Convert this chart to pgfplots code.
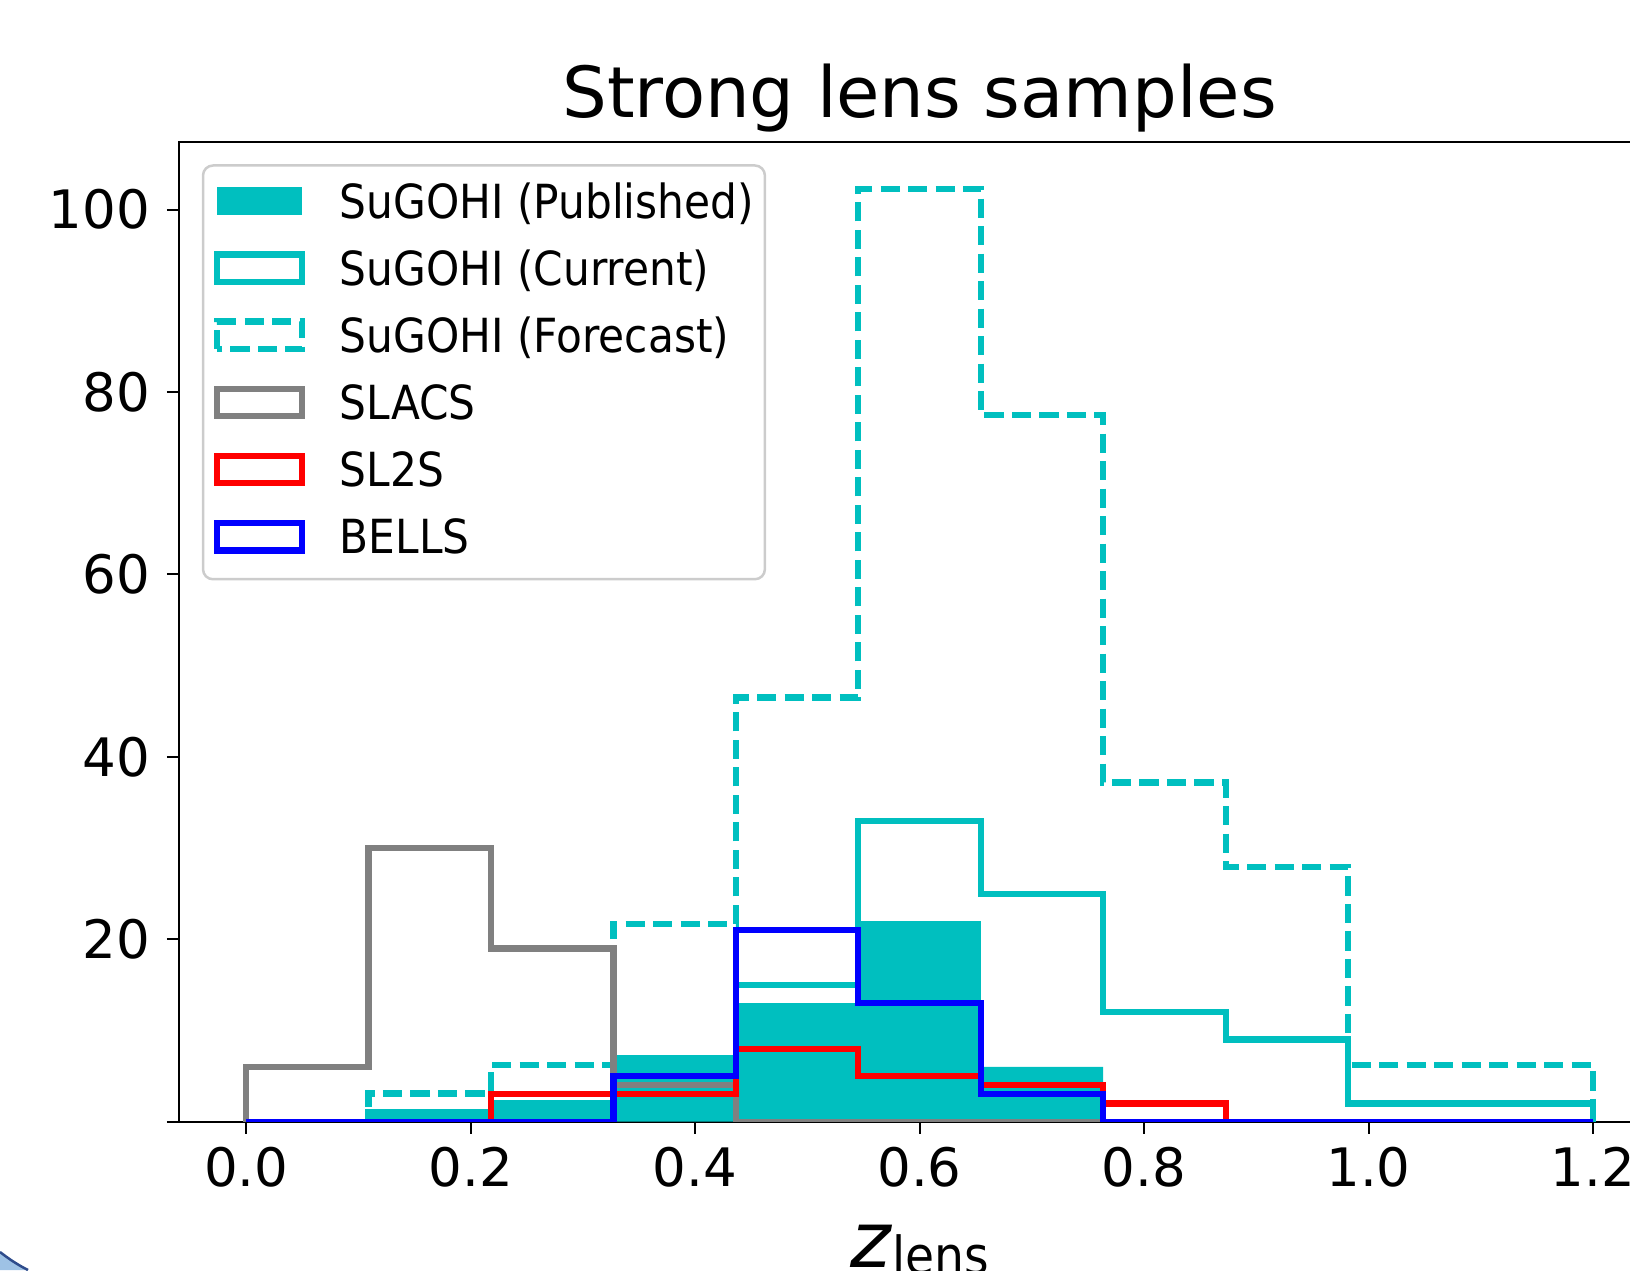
\documentclass[border=0pt]{standalone}
\usepackage{fontspec}
\setmainfont{DejaVu Sans}
\newfontfamily\legfont{DejaVu Sans}[FakeStretch=0.9]
\usepackage{pgfplots}
\pgfplotsset{compat=1.18}

\definecolor{mplcyan}{rgb}{0,0.75,0.75}
\definecolor{mplgray}{rgb}{0.5,0.5,0.5}
\definecolor{legedge}{rgb}{0.8,0.8,0.8}
\definecolor{slideblue}{rgb}{0.62,0.76,0.9}
\definecolor{slideedge}{rgb}{0.18,0.3,0.55}

\pgfplotsset{
  histleg/.style={legend image code/.code={%
    \draw[##1, sharp corners] (0pt,-2.05pt) rectangle (17pt,3.45pt);}},
  hist/.style={const plot, line width=1.25pt, line join=miter, histleg},
}

\begin{document}
\begin{tikzpicture}
\useasboundingbox (0,0) rectangle (326pt,254pt);
\begin{scope}
\clip (0,0) rectangle (326pt,254pt);
\begin{axis}[
  at={(35.76pt,29.66pt)}, anchor=south west,
  scale only axis, width=296.3pt, height=195.9pt,
  xmin=-0.06, xmax=1.26, ymin=0, ymax=107.4,
  xtick={0,0.2,0.4,0.6,0.8,1.0,1.2},
  xticklabels={0.0,0.2,0.4,0.6,0.8,1.0,1.2},
  ytick={0,20,40,60,80,100},
  yticklabels={,20,40,60,80,100},
  xtick pos=bottom, ytick pos=left,
  tick align=outside, major tick length=2.4pt,
  every tick/.style={black, line width=0.4pt},
  axis line style={black, line width=0.4pt},
  ticklabel style={font=\fontsize{10.6}{10.6}\selectfont, inner sep=0pt},
  xticklabel style={yshift=-2.4pt},
  yticklabel style={xshift=-3.2pt},
  title={Strong lens samples},
  every axis title shift=0pt,
  title style={font=\fontsize{14.1}{14.1}\selectfont, at={(0.5,1)},
    anchor=base, yshift=4.84pt, inner sep=0pt},
  xlabel={\fontsize{15.5}{15.5}\selectfont\textit{z}\raisebox{-1.5pt}{\legfont\fontsize{10.5}{10.5}\selectfont lens}},
  xlabel style={at={(axis description cs:0.5,0)}, anchor=base,
    yshift=-29.06pt, inner sep=0pt},
  legend cell align=left,
  legend style={at={(0.0155,0.9775)}, anchor=north west,
    draw=legedge, line width=0.5pt, rounded corners=2pt,
    inner xsep=2.2pt, inner ysep=3.05pt,
    row sep=3.93pt, column sep=6.9pt,
    font=\legfont\fontsize{9.4}{9.4}\selectfont,
    nodes={inner sep=0pt, text height=7.5pt, text depth=2pt}},
]
% SuGOHI (Published)
\addplot[const plot, fill=mplcyan, draw=none,
  legend image code/.code={\fill[mplcyan, sharp corners] (0pt,-2.05pt) rectangle (17pt,3.45pt);}]
  coordinates {
  (0,0) (0,0) (0.10909,1) (0.21818,2) (0.32727,7) (0.43636,13)
  (0.54545,22) (0.65455,6) (0.76364,0) (0.87273,0) (0.98182,0)
  (1.09091,0) (1.2,0)} \closedcycle;
% SuGOHI (Current)
\addplot[hist, mplcyan] coordinates {
  (0,0) (0,0) (0.10909,1) (0.21818,2) (0.32727,7) (0.43636,15)
  (0.54545,33) (0.65455,25) (0.76364,12) (0.87273,9) (0.98182,2)
  (1.09091,2) (1.2,0)};
% SuGOHI (Forecast)
\addplot[hist, mplcyan, dash pattern=on 3.85pt off 1.65pt] coordinates {
  (0,0) (0,0) (0.10909,3.1) (0.21818,6.2) (0.32727,21.7) (0.43636,46.5)
  (0.54545,102.3) (0.65455,77.5) (0.76364,37.2) (0.87273,27.9) (0.98182,6.2)
  (1.09091,6.2) (1.2,0)};
% SLACS
\addplot[hist, mplgray] coordinates {
  (0,0) (0,6) (0.10909,30) (0.21818,19) (0.32727,4) (0.43636,0)
  (0.54545,0) (0.65455,0) (0.76364,0) (0.87273,0) (0.98182,0)
  (1.09091,0) (1.2,0)};
% SL2S
\addplot[hist, red] coordinates {
  (0,0) (0,0) (0.10909,0) (0.21818,3) (0.32727,3) (0.43636,8)
  (0.54545,5) (0.65455,4) (0.76364,2) (0.87273,0) (0.98182,0)
  (1.09091,0) (1.2,0)};
% BELLS
\addplot[hist, blue] coordinates {
  (0,0) (0,0) (0.10909,0) (0.21818,0) (0.32727,5) (0.43636,21)
  (0.54545,13) (0.65455,3) (0.76364,0) (0.87273,0) (0.98182,0)
  (1.09091,0) (1.2,0)};
\legend{SuGOHI (Published), SuGOHI (Current), SuGOHI (Forecast),
  SLACS, SL2S, BELLS}
\end{axis}
% corner of the slide background
\fill[slideblue] (0,3.6pt) .. controls (1.8pt,2.2pt) and (3.6pt,1pt) .. (5.6pt,0) -- (0,0) -- cycle;
\draw[slideedge, line width=0.5pt] (0,3.6pt) .. controls (1.8pt,2.2pt) and (3.6pt,1pt) .. (5.6pt,0);
\end{scope}
\end{tikzpicture}
\end{document}
